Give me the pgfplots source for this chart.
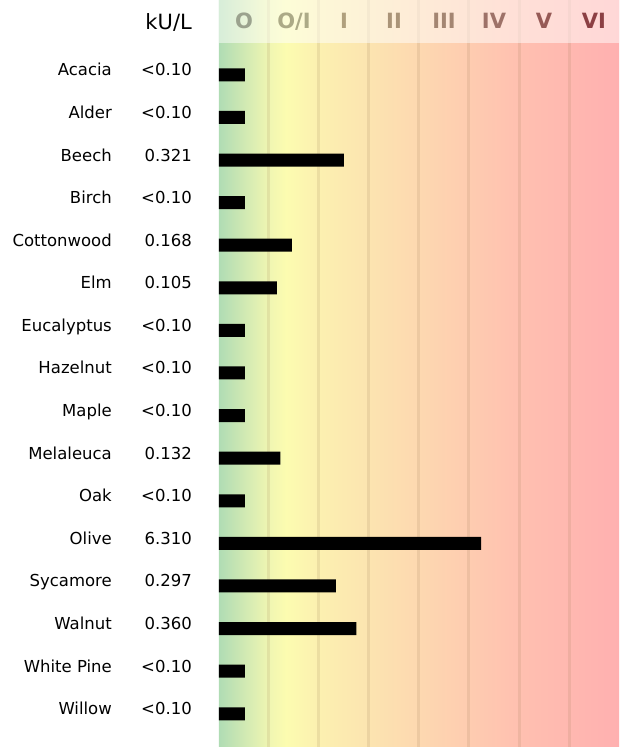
\documentclass[border=0pt]{standalone}
\usepackage{fontspec}
\setmainfont{DejaVu Sans}
\usepackage{pgfplots}
\pgfplotsset{compat=1.18}

% class colours, left to right
\definecolor{c0}{RGB}{176,220,180}
\definecolor{c1}{RGB}{240,246,178}
\definecolor{cy}{RGB}{252,252,176}
\definecolor{c2}{RGB}{252,240,176}
\definecolor{c3}{RGB}{252,228,176}
\definecolor{c4}{RGB}{253,216,176}
\definecolor{c5}{RGB}{254,204,176}
\definecolor{c6}{RGB}{255,192,176}
\definecolor{c7}{RGB}{255,184,176}
\definecolor{c8}{RGB}{255,176,176}
\definecolor{gridc}{RGB}{150,120,80}
\pgfdeclarehorizontalshading{classes}{100bp}{color(0bp)=(c0); color(25bp)=(c0);
  color(31.25bp)=(c1); color(33.4bp)=(cy); color(37.5bp)=(c2); color(43.75bp)=(c3);
  color(50bp)=(c4); color(56.25bp)=(c5); color(62.5bp)=(c6); color(68.75bp)=(c7);
  color(75bp)=(c8); color(100bp)=(c8)}

% header label colours
\definecolor{h0}{RGB}{155,162,142}
\definecolor{h1}{RGB}{172,170,135}
\definecolor{h2}{RGB}{176,160,125}
\definecolor{h3}{RGB}{170,148,120}
\definecolor{h4}{RGB}{164,134,114}
\definecolor{h5}{RGB}{158,114,104}
\definecolor{h6}{RGB}{150,90,86}
\definecolor{h7}{RGB}{140,64,68}

% bar end, in class units (0 = left edge, 8 = right edge)
\pgfplotstableread{
row pos
0 0.52
1 0.52
2 2.50
3 0.52
4 1.46
5 1.16
6 0.52
7 0.52
8 0.52
9 1.23
10 0.52
11 5.24
12 2.34
13 2.75
14 0.52
15 0.52
}\bars

\newcommand{\lab}[2]{#1\makebox[80pt][r]{#2}}

\begin{document}
\begin{tikzpicture}
\begin{axis}[
  name=main,
  scale only axis,
  width=400pt, height=747pt,
  xmin=0, xmax=8,
  ymin=-1.756, ymax=15.78,
  y dir=reverse,
  clip=false,
  axis line style={draw=none},
  major tick length=0pt,
  axis background/.style={shading=classes},
  xtick={1,...,7},
  xticklabels=\empty,
  xmajorgrids,
  major grid style={line width=3pt, draw=gridc, draw opacity=0.15},
  ytick={0,...,15},
  yticklabels={\lab{Acacia}{<0.10},\lab{Alder}{<0.10},\lab{Beech}{0.321},
    \lab{Birch}{<0.10},\lab{Cottonwood}{0.168},\lab{Elm}{0.105},
    \lab{Eucalyptus}{<0.10},\lab{Hazelnut}{<0.10},\lab{Maple}{<0.10},
    \lab{Melaleuca}{0.132},\lab{Oak}{<0.10},\lab{Olive}{6.310},
    \lab{Sycamore}{0.297},\lab{Walnut}{0.360},\lab{White Pine}{<0.10},
    \lab{Willow}{<0.10}},
  yticklabel style={anchor=base east, inner sep=0pt, xshift=-27pt, yshift=-1.0pt,
    font=\fontsize{16.5}{16.5}\selectfont},
  xbar, bar width=13pt, bar shift=0pt,
]
\addplot[fill=black, draw=none] table[x=pos, y=row] {\bars};
\end{axis}
% header band: the same colours washed out
\fill[white, opacity=0.5] (main.north west) rectangle ([yshift=-43pt]main.north east);
\foreach \t/\c [count=\i from 0] in {O/h0,O\slash I/h1,I/h2,II/h3,III/h4,IV/h5,V/h6,VI/h7}
  \node[anchor=base, inner sep=0pt, text=\c, font=\fontsize{21}{21}\selectfont\bfseries]
    at ([xshift=25pt+50pt*\i, yshift=-29pt]main.north west) {\t};
\node[anchor=base east, inner sep=0pt, font=\fontsize{21}{21}\selectfont]
  at ([xshift=-27pt, yshift=-30pt]main.north west) {kU/L};
\pgfresetboundingbox
\path[use as bounding box] ([xshift=-219pt]main.south west) rectangle ([xshift=8pt]main.north east);
\end{tikzpicture}
\end{document}
